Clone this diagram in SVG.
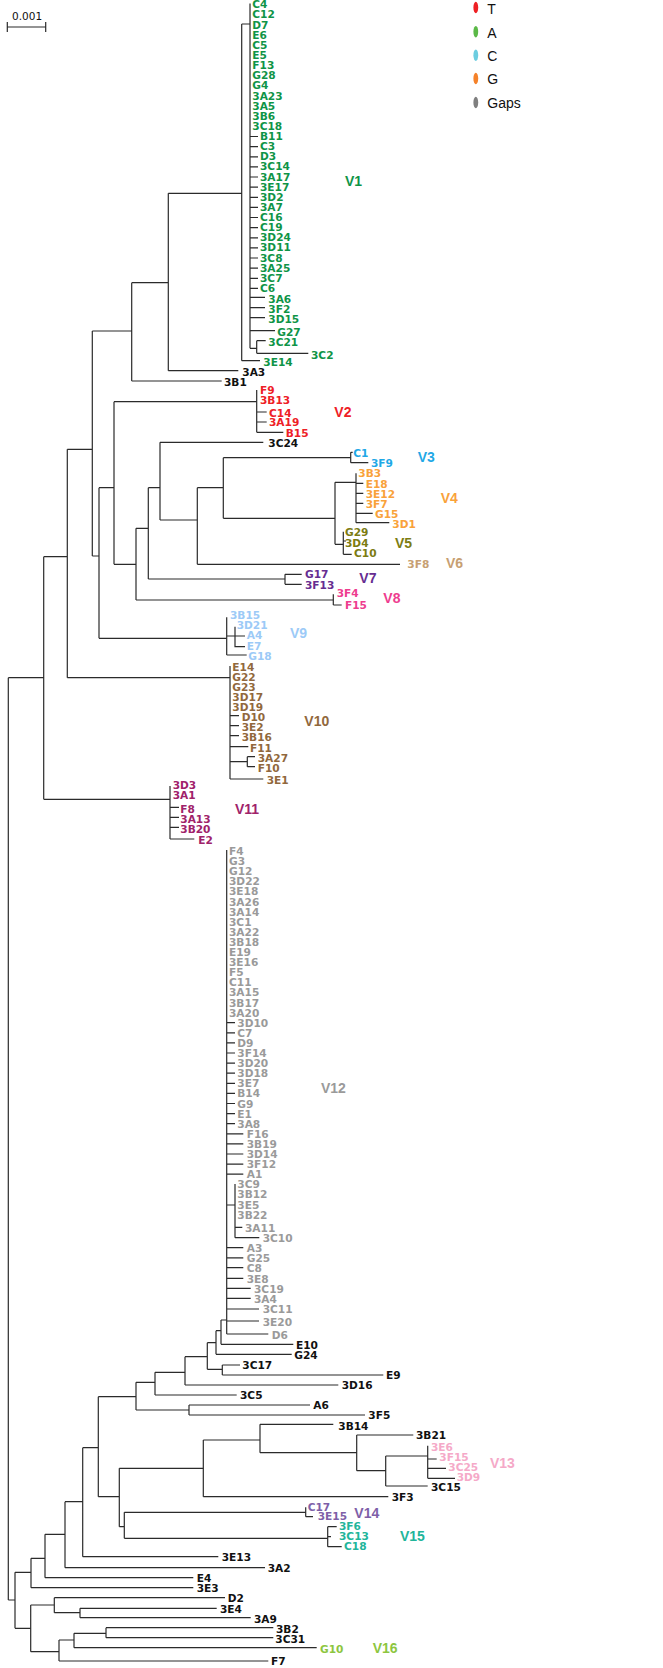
<svg xmlns="http://www.w3.org/2000/svg" width="663" height="1668" viewBox="0 0 663 1668">
<style>
text{font-family:"DejaVu Sans",Verdana,sans-serif;font-weight:bold;font-size:10.6px}
.cl{font-family:"Liberation Sans",Arial,sans-serif;font-weight:bold;font-size:14px}
.lg{font-family:"Liberation Sans",Arial,sans-serif;font-weight:normal;font-size:14px;fill:#111}
.k{fill:#111}.c1{fill:#0f9447}.c2{fill:#ee2026}.c3{fill:#1fa8e6}.c4{fill:#f9a23a}.c5{fill:#7c7c12}.c6{fill:#c79f73}.c7{fill:#662d91}.c8{fill:#ee3d8f}.c9{fill:#9ccaf7}.c10{fill:#91683c}.c11{fill:#a0226a}.c12{fill:#9a9a9a}.c13{fill:#f5a9c8}.c14{fill:#7e5fa8}.c15{fill:#22b59a}.c16{fill:#8dc63f}
.ln{fill:none;stroke:#2b2b2b;stroke-width:1.2}
</style>
<g id="scale-bar">
<path class="ln" d="M7.3 27H45.7M7.3 22V32M45.7 22V32"/>
<text x="12" y="19.5" style="font-weight:normal;font-size:10.5px" fill="#111">0.001</text>
</g>
<g id="legend">
<ellipse cx="475.8" cy="7.5" rx="2.4" ry="5.8" fill="#ee2024"/>
<ellipse cx="475.8" cy="31.7" rx="2.4" ry="5.8" fill="#5bb947"/>
<ellipse cx="475.8" cy="55.2" rx="2.4" ry="5.8" fill="#6ccde0"/>
<ellipse cx="475.8" cy="78.5" rx="2.4" ry="5.8" fill="#f5822a"/>
<ellipse cx="475.8" cy="102.5" rx="2.4" ry="5.8" fill="#7f7f7f"/>
<text class="lg" x="487.3" y="14.3">T</text>
<text class="lg" x="487.3" y="37.5">A</text>
<text class="lg" x="487.3" y="60.8">C</text>
<text class="lg" x="487.3" y="84.3">G</text>
<text class="lg" x="487.3" y="108.3">Gaps</text>
</g>
<g id="connectors">
<path class="ln" d="M8.3 677.7V1600M8.3 677.7H43.7M43.7 556.7V799.3M43.7 556.7H67.3M43.7 799.3H170M67.3 449.3V677.7M67.3 449.3H92.3M67.3 677.7H230M92.3 331V556M92.3 331H131.7M92.3 556H99M131.7 282.7V381M131.7 282.7H168.3M131.7 381H221.7M168.3 193.3V370.7M168.3 193.3H241.7M168.3 370.7H238.3M241.7 24V360.7M241.7 24H250M241.7 360.7H260M250 3.5V348.3"/>
<path class="ln" d="M250 136.5H258M250 146.6H258M250 156.8H258M250 166.9H258M250 177H258M250 187.1H258M250 197.3H258M250 207.4H258M250 217.5H258M250 227.6H258M250 237.8H258M250 247.9H258M250 258H258M250 268.2H258M250 278.3H258M250 288.4H258M250 297.3H265M250 307.7H265M250 317.7H265M250 330.7H275M250 348.3H256.7M256.7 340.7V353.3M256.7 340.7H265.7M256.7 353.3H308.3"/>
<path class="ln" d="M99 487.7V638.3M99 487.7H114M99 638.3H226.7M114 401.7V564.3M114 401.7H256.7M114 564.3H136M136 528.3V600M136 528.3H148.3M136 600H333.3M148.3 487.7V579M148.3 487.7H160M148.3 579H285M160 442.3V520M160 442.3H263.3M160 520H197.3M197.3 487.7V564.3M197.3 487.7H223.3M197.3 564.3H400M223.3 457.7V518.3M223.3 457.7H350.7M223.3 518.3H335M335 482.3V544.3M335 482.3H356M335 544.3H343.3"/>
<path class="ln" d="M256.7 390V432.3M256.7 412H266.7M256.7 422H266.7M256.7 432.3H283.3M350.7 452.3V462.7M350.7 452.3H352.7M350.7 462.7H368.3M356 473.3V522.7M356 483.3H363.3M356 493.3H363.3M356 503.3H363.3M356 513.3H372.7M356 522.7H389.3M343.3 531.7V554.3M343.3 541H346M343.3 554.3H351.7M285 574.3V584.3M285 574.3H301.7M285 584.3H301.7M333.3 594.3V605M333.3 605H341.7"/>
<path class="ln" d="M226.7 617.3V655M226.7 636H235M235 626.7V647.3M235 636H245M235 646.7H245M226.7 655H246.7M230 666V779M230 715.7H239M230 725.7H239M230 735.7H239M230 746.7H248.3M230 761.7H247.3M247.3 756.7V766.7M247.3 756.7H255M247.3 766.7H255M230 779H263.3M170 786V839M170 807.3H179M170 817.3H179M170 827.3H179M170 839H194.3"/>
<path class="ln" d="M226.7 850V1334M226.7 1022.7H235M226.7 1032.8H235M226.7 1042.9H235M226.7 1053H235M226.7 1063.1H235M226.7 1073.2H235M226.7 1083.3H235M226.7 1093.4H235M226.7 1103.5H235M226.7 1113.6H235M226.7 1123.7H235M226.7 1133.8H243.3M226.7 1143.9H243.3M226.7 1154H243.3M226.7 1164.1H243.3M226.7 1174.2H243.3M226.7 1205H235M235 1184V1237.7M235 1227.3H242.3M235 1237.7H259.3M226.7 1247.7H243.3M226.7 1257.8H243.3M226.7 1267.7H243.3M226.7 1278.3H243.3M226.7 1288.3H250.7M226.7 1298.3H250.7M226.7 1309H259M226.7 1321H259M226.7 1334H268.3"/>
<path class="ln" d="M8.3 1600H15M15 1572.3V1628.3M15 1572.3H31M15 1628.3H30.7M31 1558.3V1587.7M31 1558.3H45M31 1587.7H193.3M45 1534.3V1577.7M45 1534.3H65M45 1577.7H193.3M65 1501.7V1567.7M65 1501.7H82.7M65 1567.7H265M82.7 1447.7V1556.7M82.7 1447.7H98.3M82.7 1556.7H218.3M98.3 1396.7V1496.7M98.3 1396.7H136M98.3 1496.7H119.3M119.3 1468.3V1526.7M119.3 1468.3H203.3M119.3 1526.7H124.3M124.3 1512.3V1538.3M124.3 1512.3H305.7M124.3 1538.3H327.7"/>
<path class="ln" d="M203.3 1440V1496.7M203.3 1440H260M203.3 1496.7H388.3M260 1424.3V1452.7M260 1424.3H333.3M260 1452.7H356.7M356.7 1435V1470.7M356.7 1435H413.3M356.7 1470.7H385.7M385.7 1456V1486M385.7 1456H427.7M385.7 1486H427.7M427.7 1445.7V1478.3M427.7 1459H436.7M427.7 1468.3H446M427.7 1478.3H455"/>
<path class="ln" d="M136 1382.3V1410M136 1382.3H155M136 1410H189M189 1405V1415M189 1405H310M189 1415H365M155 1372.3V1395M155 1372.3H185M155 1395H236.7M185 1356.7V1385M185 1356.7H207.3M185 1385H338.3M207.3 1342.7V1369.3M207.3 1342.7H216M207.3 1369.3H222.3M222.3 1365V1375M222.3 1365H240M222.3 1375H383.3M216 1330.7V1354.3M216 1330.7H221M216 1354.3H291.7M221 1320V1344.3M221 1320H226.7M221 1344.3H293.3"/>
<path class="ln" d="M305.7 1507.3V1516.7M305.7 1516.7H313M327.7 1526.7V1546.7M327.7 1526.7H336.7M327.7 1536.7H331M327.7 1546.7H341.7M30.7 1605V1651.7M30.7 1605H54.3M30.7 1651.7H59M54.3 1597.7V1612.7M54.3 1597.7H225M54.3 1612.7H80M80 1608.3V1617.7M80 1608.3H216.7M80 1617.7H250.7M59 1640V1661M59 1640H74M59 1661H268.3M74 1633.3V1647.7M74 1633.3H106M74 1647.7H316.7M106 1627.7V1637.7M106 1627.7H273.3M106 1637.7H273.3"/>
</g>
<g id="clade-V1" class="c1">
<text x="252.3" y="8.3">C4</text><text x="252.3" y="18.4">C12</text><text x="252.3" y="28.6">D7</text><text x="252.3" y="38.7">E6</text><text x="252.3" y="48.8">C5</text><text x="252.3" y="59">E5</text><text x="252.3" y="69.1">F13</text><text x="252.3" y="79.2">G28</text><text x="252.3" y="89.3">G4</text><text x="252.3" y="99.5">3A23</text><text x="252.3" y="109.6">3A5</text><text x="252.3" y="119.7">3B6</text><text x="252.3" y="129.9">3C18</text>
<text x="260" y="140">B11</text><text x="260" y="150.1">C3</text><text x="260" y="160.3">D3</text><text x="260" y="170.4">3C14</text><text x="260" y="180.5">3A17</text><text x="260" y="190.6">3E17</text><text x="260" y="200.8">3D2</text><text x="260" y="210.9">3A7</text><text x="260" y="221">C16</text><text x="260" y="231.1">C19</text><text x="260" y="241.3">3D24</text><text x="260" y="251.4">3D11</text><text x="260" y="261.5">3C8</text><text x="260" y="271.7">3A25</text><text x="260" y="281.8">3C7</text><text x="260" y="291.9">C6</text>
<text x="268.3" y="302.5">3A6</text><text x="268.3" y="312.6">3F2</text><text x="268.3" y="322.7">3D15</text><text x="277.3" y="335.7">G27</text><text x="268.3" y="345.7">3C21</text><text x="311" y="359">3C2</text><text x="263.3" y="365.7">3E14</text>
<text class="cl" x="345" y="185.7">V1</text>
</g>
<g id="leaves-upper-black" class="k">
<text x="242.3" y="375.7">3A3</text><text x="224" y="386">3B1</text><text x="268.3" y="446.7">3C24</text>
</g>
<g id="clade-V2" class="c2">
<text x="260" y="394">F9</text><text x="260" y="404">3B13</text><text x="269" y="416.7">C14</text><text x="269" y="426">3A19</text><text x="285.7" y="436.7">B15</text>
<text class="cl" x="334.3" y="416.7">V2</text>
</g>
<g id="clade-V3" class="c3">
<text x="353.3" y="456.7">C1</text><text x="371" y="466.7">3F9</text>
<text class="cl" x="417.7" y="462.3">V3</text>
</g>
<g id="clade-V4" class="c4">
<text x="358.3" y="476.7">3B3</text><text x="365.7" y="487.7">E18</text><text x="365.7" y="497.7">3E12</text><text x="365.7" y="507.7">3F7</text><text x="375" y="517.7">G15</text><text x="392.3" y="527.7">3D1</text>
<text class="cl" x="440.7" y="503.3">V4</text>
</g>
<g id="clade-V5" class="c5">
<text x="345" y="536">G29</text><text x="345" y="546.7">3D4</text><text x="354" y="557">C10</text>
<text class="cl" x="395" y="547.7">V5</text>
</g>
<g id="clade-V6" class="c6">
<text x="407.3" y="568.3">3F8</text>
<text class="cl" x="446" y="568.3">V6</text>
</g>
<g id="clade-V7" class="c7">
<text x="305" y="578.3">G17</text><text x="305" y="589">3F13</text>
<text class="cl" x="359.3" y="583.3">V7</text>
</g>
<g id="clade-V8" class="c8">
<text x="336.7" y="597">3F4</text><text x="345" y="609.3">F15</text>
<text class="cl" x="383.3" y="602.7">V8</text>
</g>
<g id="clade-V9" class="c9">
<text x="230" y="619.3">3B15</text><text x="236.7" y="629.3">3D21</text><text x="246.7" y="639.3">A4</text><text x="246.7" y="650">E7</text><text x="248.3" y="660">G18</text>
<text class="cl" x="290" y="637.7">V9</text>
</g>
<g id="clade-V10" class="c10">
<text x="232.3" y="670.7">E14</text><text x="232.3" y="680.7">G22</text><text x="232.3" y="690.7">G23</text><text x="232.3" y="700.7">3D17</text><text x="232.3" y="710.5">3D19</text><text x="241.7" y="720.7">D10</text><text x="241.7" y="730.7">3E2</text><text x="241.7" y="740.7">3B16</text><text x="250" y="751.7">F11</text><text x="257.7" y="761.7">3A27</text><text x="257.7" y="771.7">F10</text><text x="266.7" y="784">3E1</text>
<text class="cl" x="304.3" y="725.7">V10</text>
</g>
<g id="clade-V11" class="c11">
<text x="172.7" y="789.3">3D3</text><text x="172.7" y="799.3">3A1</text><text x="180.3" y="812.7">F8</text><text x="180.3" y="822.7">3A13</text><text x="180.3" y="832.7">3B20</text><text x="198.3" y="843.5">E2</text>
<text class="cl" x="235" y="814">V11</text>
</g>
<g id="clade-V12" class="c12">
<text x="229" y="855">F4</text><text x="229" y="865.1">G3</text><text x="229" y="875.2">G12</text><text x="229" y="885.3">3D22</text><text x="229" y="895.4">3E18</text><text x="229" y="905.5">3A26</text><text x="229" y="915.6">3A14</text><text x="229" y="925.7">3C1</text><text x="229" y="935.8">3A22</text><text x="229" y="945.9">3B18</text><text x="229" y="956">E19</text><text x="229" y="966.1">3E16</text><text x="229" y="976.2">F5</text><text x="229" y="986.3">C11</text><text x="229" y="996.4">3A15</text><text x="229" y="1006.5">3B17</text><text x="229" y="1016.6">3A20</text>
<text x="237.3" y="1026.7">3D10</text><text x="237.3" y="1036.8">C7</text><text x="237.3" y="1046.9">D9</text><text x="237.3" y="1057">3F14</text><text x="237.3" y="1067.1">3D20</text><text x="237.3" y="1077.2">3D18</text><text x="237.3" y="1087.3">3E7</text><text x="237.3" y="1097.4">B14</text><text x="237.3" y="1107.5">G9</text><text x="237.3" y="1117.6">E1</text><text x="237.3" y="1127.7">3A8</text>
<text x="246.7" y="1137.8">F16</text><text x="246.7" y="1147.9">3B19</text><text x="246.7" y="1158">3D14</text><text x="246.7" y="1168.1">3F12</text><text x="246.7" y="1178.2">A1</text>
<text x="237.3" y="1188.3">3C9</text><text x="237.3" y="1198.4">3B12</text><text x="237.3" y="1208.5">3E5</text><text x="237.3" y="1218.6">3B22</text><text x="245" y="1231.7">3A11</text><text x="262.7" y="1241.7">3C10</text>
<text x="246.7" y="1251.7">A3</text><text x="246.7" y="1261.8">G25</text><text x="246.7" y="1271.7">C8</text><text x="246.7" y="1282.7">3E8</text><text x="254" y="1293.3">3C19</text><text x="254" y="1302.7">3A4</text><text x="262.7" y="1313.3">3C11</text><text x="262.7" y="1325.7">3E20</text><text x="271.7" y="1339">D6</text>
<text class="cl" x="321" y="1093.3">V12</text>
</g>
<g id="leaves-lower-black" class="k">
<text x="296" y="1349.3">E10</text><text x="294.3" y="1359.3">G24</text><text x="242.3" y="1369.3">3C17</text><text x="386" y="1379.3">E9</text><text x="341.7" y="1389.3">3D16</text><text x="240" y="1399.3">3C5</text><text x="313.3" y="1409.3">A6</text><text x="368.3" y="1419.3">3F5</text><text x="338.3" y="1430">3B14</text><text x="416" y="1439.3">3B21</text><text x="431" y="1490.7">3C15</text><text x="391.7" y="1500.7">3F3</text>
<text x="221.7" y="1561">3E13</text><text x="267.7" y="1571.7">3A2</text><text x="196.7" y="1582.3">E4</text><text x="196.7" y="1592.3">3E3</text><text x="227.7" y="1602.3">D2</text><text x="220" y="1612.7">3E4</text><text x="254" y="1622.7">3A9</text><text x="276" y="1632.7">3B2</text><text x="275.3" y="1642.7">3C31</text><text x="271" y="1665">F7</text>
</g>
<g id="clade-V13" class="c13">
<text x="431" y="1451">3E6</text><text x="439.3" y="1461">3F15</text><text x="448.3" y="1471">3C25</text><text x="456.7" y="1481">3D9</text>
<text class="cl" x="490" y="1467.7">V13</text>
</g>
<g id="clade-V14" class="c14">
<text x="307.7" y="1511">C17</text><text x="317.7" y="1520">3E15</text>
<text class="cl" x="354.3" y="1517.7">V14</text>
</g>
<g id="clade-V15" class="c15">
<text x="339" y="1530">3F6</text><text x="339" y="1540">3C13</text><text x="344" y="1550">C18</text>
<text class="cl" x="400" y="1541">V15</text>
</g>
<g id="clade-V16" class="c16">
<text x="320" y="1652.7">G10</text>
<text class="cl" x="372.7" y="1653.3">V16</text>
</g>
</svg>
